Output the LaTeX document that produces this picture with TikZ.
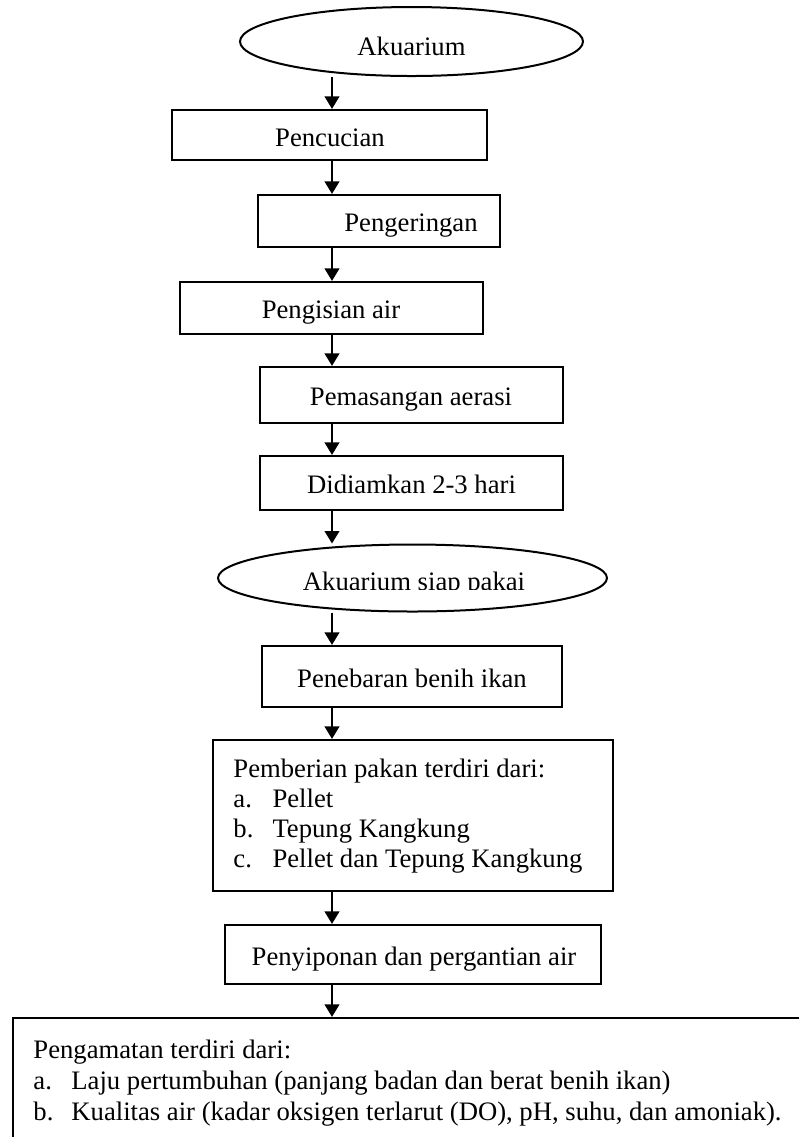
\documentclass[tikz,border=0pt]{standalone}
\usepackage{fontspec}
\setmainfont{Liberation Serif}
\usetikzlibrary{shapes.geometric,arrows.meta}
\begin{document}
\begin{tikzpicture}[x=0.45pt,y=-0.45pt,
  txt/.style={inner sep=0pt,font=\fontsize{12pt}{14pt}\selectfont},
  boxs/.style={draw,line width=1pt,inner sep=0pt,rectangle},
  ovals/.style={draw,ellipse,line width=0.9pt,inner sep=0pt},
  arr/.style={line width=0.75pt,-{Triangle[length=5.6pt,width=6.6pt]}}]
\clip (0,0) rectangle (799,1137);
\coordinate (ax) at (332,0);
% shapes
\node[ovals,minimum width=154.35pt,minimum height=31.05pt] (e1) at (411.5,41.5) {};
\node[boxs,minimum width=141.75pt,minimum height=22.5pt] (b1) at (329.5,135) {};
\node[boxs,minimum width=108.9pt,minimum height=23.4pt] (b2) at (379,221) {};
\node[boxs,minimum width=136.35pt,minimum height=23.4pt] (b3) at (331.5,308) {};
\node[boxs,minimum width=136.35pt,minimum height=25.2pt] (b4) at (411.5,395) {};
\node[boxs,minimum width=136.35pt,minimum height=24.3pt] (b5) at (411.5,483) {};
\node[ovals,minimum width=175.05pt,minimum height=30.15pt] (e2) at (412.5,578) {};
\node[boxs,minimum width=135pt,minimum height=27.45pt] (b6) at (412,676.5) {};
\node[boxs,minimum width=180pt,minimum height=67.95pt] (b7) at (413,815.5) {};
\node[boxs,minimum width=169.2pt,minimum height=26.55pt] (b8) at (413,954.5) {};
\node[boxs,minimum width=360.9pt,minimum height=59.4pt] (b9) at (414,1084) {};
% texts
\node[txt,anchor=base] (t0) at (411.5,55) {Akuarium};
\node[txt,anchor=base] (t1) at (330,146) {Pencucian};
\node[txt,anchor=base] (t2) at (411,231) {Pengeringan};
\node[txt,anchor=base] (t3) at (331,318) {Pengisian air};
\node[txt,anchor=base] (t4) at (411,405) {Pemasangan aerasi};
\node[txt,anchor=base] (t5) at (411.5,493) {Didiamkan 2-3 hari};
\begin{scope}
\clip (290,555) rectangle (540,589);
\node[txt,anchor=base] (t6) at (414,590) {Akuarium siap pakai};
\end{scope}
\node[txt,anchor=base] (t7) at (412,687) {Penebaran benih ikan};
\node[txt,anchor=base west] (p1) at (233,777) {Pemberian pakan terdiri dari:};
\node[txt,anchor=base west] (p2) at (233,807) {\makebox[17.6pt][l]{a.}Pellet};
\node[txt,anchor=base west] (p3) at (233,837) {\makebox[17.6pt][l]{b.}Tepung Kangkung};
\node[txt,anchor=base west] (p4) at (233,867) {\makebox[17.6pt][l]{c.}Pellet dan Tepung Kangkung};
\node[txt,anchor=base] (t8) at (414,965) {Penyiponan dan pergantian air};
\node[txt,anchor=base west] (q1) at (33,1058) {Pengamatan terdiri dari:};
\node[txt,anchor=base west] (q2) at (33,1089) {\makebox[17.1pt][l]{a.}Laju pertumbuhan (panjang badan dan berat benih ikan)};
\node[txt,anchor=base west] (q3) at (33,1120) {\makebox[17.1pt][l]{b.}Kualitas air (kadar oksigen terlarut (DO), pH, suhu, dan amoniak).};
% connectors
\draw[arr] (e1.south -| ax) -- (b1.north -| ax);
\draw[arr] (b1.south -| ax) -- (b2.north -| ax);
\draw[arr] (b2.south -| ax) -- (b3.north -| ax);
\draw[arr] (b3.south -| ax) -- (b4.north -| ax);
\draw[arr] (b4.south -| ax) -- (b5.north -| ax);
\draw[arr] (b5.south -| ax) -- (e2.north -| ax);
\draw[arr] (e2.south -| ax) -- (b6.north -| ax);
\draw[arr] (b6.south -| ax) -- (b7.north -| ax);
\draw[arr] (b7.south -| ax) -- (b8.north -| ax);
\draw[arr] (b8.south -| ax) -- (b9.north -| ax);
\end{tikzpicture}
\end{document}
